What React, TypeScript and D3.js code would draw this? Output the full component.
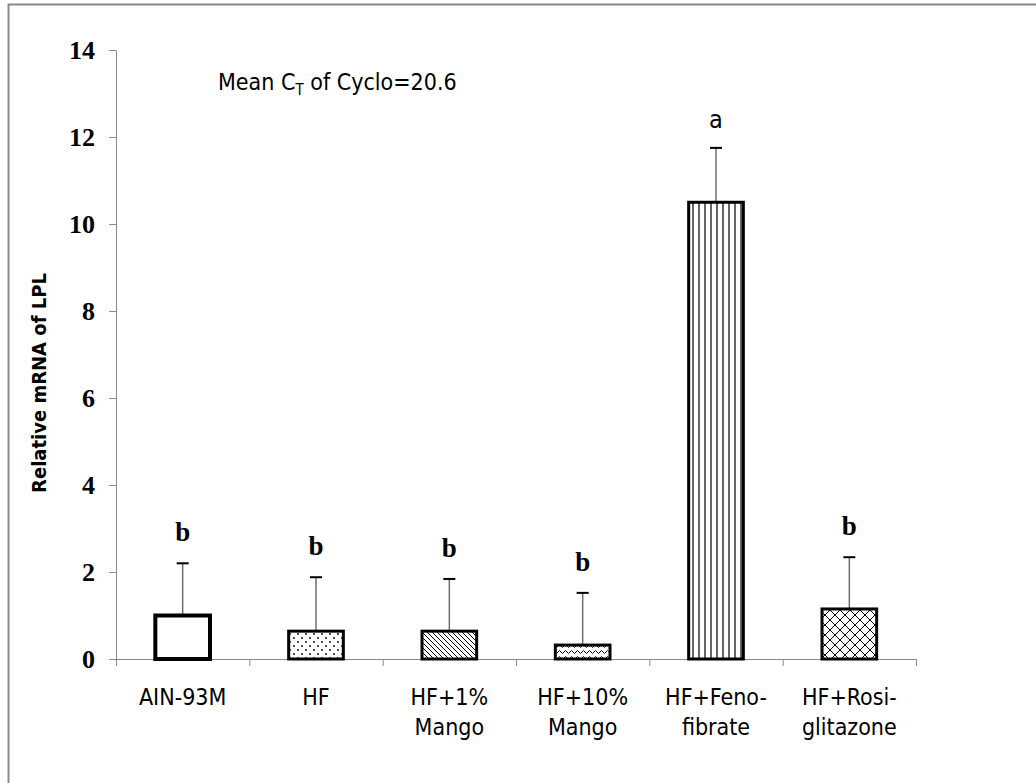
import React, { useEffect, useRef } from "react";
import * as d3 from "d3";

const categories = [
  ["AIN-93M"],
  ["HF"],
  ["HF+1%", "Mango"],
  ["HF+10%", "Mango"],
  ["HF+Feno-", "fibrate"],
  ["HF+Rosi-", "glitazone"],
];
const means = [1.0, 0.64, 0.64, 0.32, 10.5, 1.15];
const errTops = [2.2, 1.88, 1.84, 1.52, 11.75, 2.34];
const letters = ["b", "b", "b", "b", "a", "b"];
const patterns = ["none", "dots", "diag", "wave", "vert", "cross"];
const yTicks = [0, 2, 4, 6, 8, 10, 12, 14];

const W = 1036;
const H = 783;
const narrow = "'Liberation Sans Narrow', 'DejaVu Sans Condensed', sans-serif";

const App = () => {
  const svgRef = useRef<SVGSVGElement>(null);

  useEffect(() => {
    const svg = d3.select(svgRef.current);
    svg.selectAll("*").remove();

    const left = 116;
    const right = 916;
    const top = 50;
    const bottom = 659;

    // frame (only top and left edges visible in the picture)
    svg.append("path")
      .attr("d", `M8.5,${H + 5} V4.5 H${W + 5}`)
      .attr("fill", "none")
      .attr("stroke", "#8a8a8a")
      .attr("stroke-width", 2);

    const defs = svg.append("defs");

    const dots = defs.append("pattern").attr("id", "p-dots")
      .attr("patternUnits", "userSpaceOnUse").attr("width", 8).attr("height", 8);
    dots.append("circle").attr("cx", 2).attr("cy", 2).attr("r", 0.9).attr("fill", "#000");
    dots.append("circle").attr("cx", 6).attr("cy", 6).attr("r", 0.9).attr("fill", "#000");

    const diag = defs.append("pattern").attr("id", "p-diag")
      .attr("patternUnits", "userSpaceOnUse").attr("width", 5).attr("height", 5);
    diag.append("path").attr("d", "M-1,-1 L6,6 M-1,4 L1,6 M4,-1 L6,1")
      .attr("stroke", "#000").attr("stroke-width", 1);

    const wave = defs.append("pattern").attr("id", "p-wave")
      .attr("patternUnits", "userSpaceOnUse").attr("width", 6).attr("height", 6);
    wave.append("path").attr("d", "M0,4 Q1.5,1 3,4 T6,4")
      .attr("fill", "none").attr("stroke", "#000").attr("stroke-width", 1);

    const vert = defs.append("pattern").attr("id", "p-vert")
      .attr("patternUnits", "userSpaceOnUse").attr("width", 6).attr("height", 6);
    vert.append("path").attr("d", "M3,0 V6").attr("stroke", "#000").attr("stroke-width", 1.2);

    const cross = defs.append("pattern").attr("id", "p-cross")
      .attr("patternUnits", "userSpaceOnUse").attr("width", 10).attr("height", 10);
    cross.append("path").attr("d", "M0,0 L10,10 M10,0 L0,10")
      .attr("stroke", "#000").attr("stroke-width", 1);

    const x = d3.scaleBand<number>()
      .domain(d3.range(categories.length))
      .range([left, right])
      .paddingInner(0)
      .paddingOuter(0);

    const y = d3.scaleLinear().domain([0, 14]).range([bottom, top]);

    // y axis
    const yAxis = svg.append("g")
      .attr("transform", `translate(${left},0)`)
      .call(d3.axisLeft(y).tickValues(yTicks).tickSize(7).tickPadding(14).tickSizeOuter(0));
    yAxis.select(".domain").attr("stroke", "#8a8a8a");
    yAxis.selectAll(".tick line").attr("stroke", "#8a8a8a");
    yAxis.selectAll(".tick text")
      .attr("fill", "#000")
      .style("font-family", "'Liberation Serif', serif")
      .style("font-weight", "bold")
      .style("font-size", "26px");

    // x axis
    const xAxisG = svg.append("g");
    xAxisG.append("line")
      .attr("x1", left).attr("x2", right)
      .attr("y1", bottom + 0.5).attr("y2", bottom + 0.5)
      .attr("stroke", "#8a8a8a");
    const bounds = d3.range(categories.length + 1).map((i) =>
      i < categories.length ? x(i)! : x(categories.length - 1)! + x.bandwidth()
    );
    xAxisG.selectAll(".xt").data(bounds).enter().append("line")
      .attr("x1", (d) => d + 0.5).attr("x2", (d) => d + 0.5)
      .attr("y1", bottom).attr("y2", bottom + 7)
      .attr("stroke", "#8a8a8a");

    const barW = x.bandwidth() * 0.41;

    const g = svg.append("g");
    categories.forEach((cat, i) => {
      const cx = x(i)! + x.bandwidth() / 2;
      const fill = patterns[i] === "none" ? "#fff" : `url(#p-${patterns[i]})`;

      // error bar
      g.append("line")
        .attr("x1", cx).attr("x2", cx)
        .attr("y1", y(means[i])).attr("y2", y(errTops[i]))
        .attr("stroke", "#6e6e6e").attr("stroke-width", 1.5);
      g.append("line")
        .attr("x1", cx - 6).attr("x2", cx + 6)
        .attr("y1", y(errTops[i])).attr("y2", y(errTops[i]))
        .attr("stroke", "#000").attr("stroke-width", 2);

      g.append("rect")
        .attr("x", cx - barW / 2)
        .attr("y", y(means[i]))
        .attr("width", barW)
        .attr("height", y(0) - y(means[i]))
        .attr("fill", "#fff");
      g.append("rect")
        .attr("x", cx - barW / 2)
        .attr("y", y(means[i]))
        .attr("width", barW)
        .attr("height", y(0) - y(means[i]))
        .attr("fill", fill)
        .attr("stroke", "#000")
        .attr("stroke-width", i === 0 ? 4 : 3);

      const isA = letters[i] === "a";
      g.append("text")
        .attr("x", cx)
        .attr("y", y(errTops[i]) - (isA ? 20 : 22))
        .attr("text-anchor", "middle")
        .style("font-family", isA ? narrow : "'Liberation Serif', serif")
        .style("font-weight", isA ? "normal" : "bold")
        .style("font-size", isA ? "25px" : "27px")
        .text(letters[i]);

      const lab = g.append("text")
        .attr("text-anchor", "middle")
        .style("font-family", narrow)
        .style("font-size", "23px");
      cat.forEach((line, k) => {
        lab.append("tspan").attr("x", cx).attr("y", 705 + k * 30).text(line);
      });
    });

    // y title
    svg.append("text")
      .attr("transform", `translate(46,383) rotate(-90)`)
      .attr("text-anchor", "middle")
      .style("font-family", narrow)
      .style("font-weight", "bold")
      .style("font-size", "20px")
      .text("Relative mRNA of LPL");

    // annotation
    const note = svg.append("text")
      .attr("x", 218).attr("y", 90)
      .style("font-family", narrow)
      .style("font-size", "23px");
    note.append("tspan").text("Mean C");
    note.append("tspan").attr("dy", 5).style("font-size", "15px").text("T");
    note.append("tspan").attr("dy", -5).text(" of Cyclo=20.6");
  }, []);

  return (
    <svg
      ref={svgRef}
      width={W}
      height={H}
      style={{ position: "absolute", left: 0, top: 0, background: "#fff" }}
    />
  );
};

export default App;
